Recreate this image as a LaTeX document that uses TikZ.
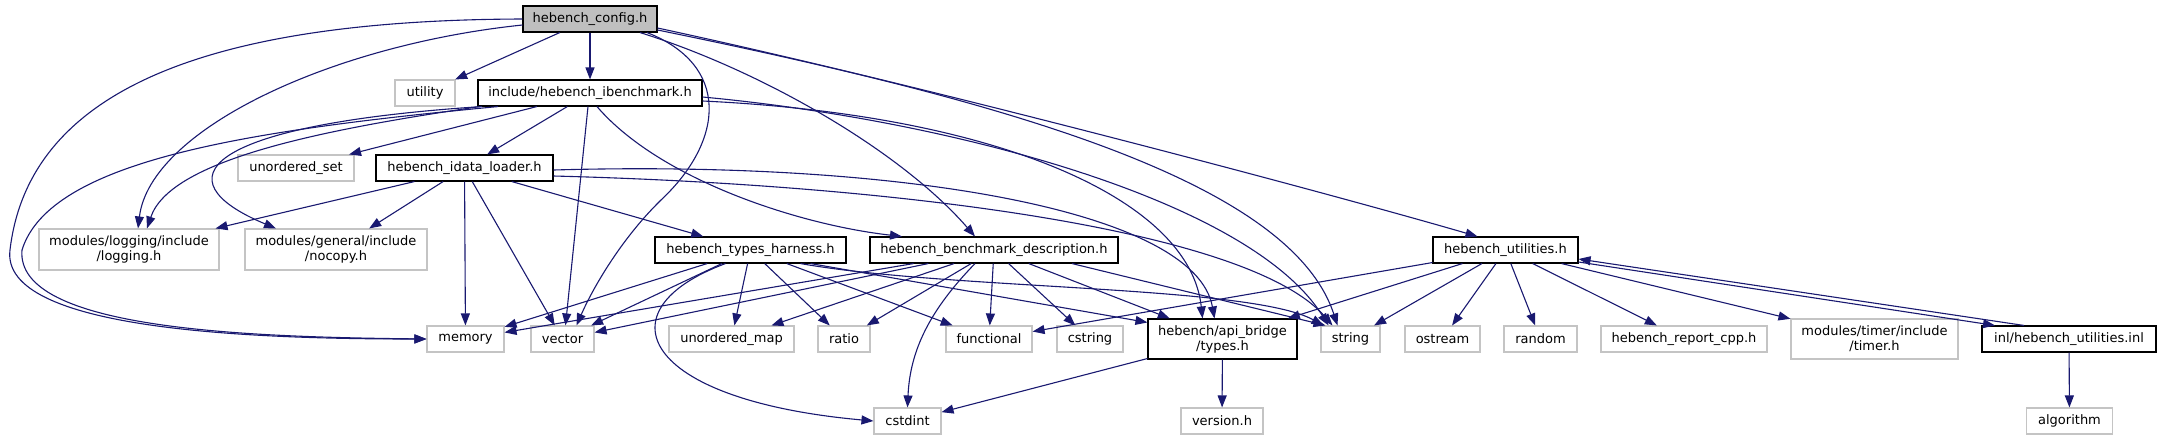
\documentclass[tikz,border=0pt]{standalone}
\usepackage{fontspec}
\setmainfont{DejaVu Sans}
\usetikzlibrary{arrows.meta}
\definecolor{edgec}{HTML}{191970}
\definecolor{graybd}{HTML}{C4C4C4}
\definecolor{cfgfill}{HTML}{BFBFBF}
\begin{document}
\begin{tikzpicture}[x=1pt,y=-1pt,
  dbox/.style={draw=black, line width=1.1pt, minimum height=26pt, inner sep=0pt,
    font=\fontsize{13}{15}\selectfont, align=center, fill=white},
  gbox/.style={dbox, draw=graybd},
  dep/.style={draw=edgec, line width=1.1pt, -{Triangle[length=12pt,width=9pt]}},
]
\useasboundingbox (0,0) rectangle (2161,440);

% nodes
\node[dbox,fill=cfgfill,minimum width=134pt] (cfg) at (590,19) {hebench\_config.h};
\node[gbox,minimum width=60pt] (utility) at (425,93) {utility};
\node[dbox,minimum width=224pt] (ibm) at (590,93) {include/hebench\_ibenchmark.h};
\node[gbox,minimum width=116pt] (uset) at (296,168) {unordered\_set};
\node[dbox,minimum width=177pt] (idl) at (464.5,168) {hebench\_idata\_loader.h};
\node[gbox,minimum width=180pt,minimum height=41pt] (logging) at (129,249.5) {modules/logging/include\\/logging.h};
\node[gbox,minimum width=182pt,minimum height=41pt] (nocopy) at (336,249.5) {modules/general/include\\/nocopy.h};
\node[dbox,minimum width=191pt] (tharn) at (750.5,250) {hebench\_types\_harness.h};
\node[dbox,minimum width=248pt] (bdesc) at (994,250) {hebench\_benchmark\_description.h};
\node[dbox,minimum width=145pt] (util) at (1505.5,250) {hebench\_utilities.h};
\node[gbox,minimum width=77pt] (memory) at (465.5,339) {memory};
\node[gbox,minimum width=63pt] (vector) at (562.5,339) {vector};
\node[gbox,minimum width=125pt] (umap) at (731.5,339) {unordered\_map};
\node[gbox,minimum width=52pt] (ratio) at (844,339) {ratio};
\node[gbox,minimum width=86pt] (functional) at (989,339) {functional};
\node[gbox,minimum width=66pt] (cstring) at (1090,339) {cstring};
\node[dbox,minimum width=149pt,minimum height=40pt] (types) at (1222.5,339) {hebench/api\_bridge\\/types.h};
\node[gbox,minimum width=59pt] (string) at (1350.5,339) {string};
\node[gbox,minimum width=75pt] (ostream) at (1442.5,339) {ostream};
\node[gbox,minimum width=73pt] (random) at (1540.5,339) {random};
\node[gbox,minimum width=166pt] (report) at (1684,339) {hebench\_report\_cpp.h};
\node[gbox,minimum width=167pt,minimum height=40pt] (timer) at (1874.5,339) {modules/timer/include\\/timer.h};
\node[dbox,minimum width=174pt] (inl) at (2069,339) {inl/hebench\_utilities.inl};
\node[gbox,minimum width=67pt] (cstdint) at (907.5,421) {cstdint};
\node[gbox,minimum width=82pt] (version) at (1222,421) {version.h};
\node[gbox,minimum width=86pt] (algorithm) at (2069.5,421) {algorithm};

% hebench_config.h
\draw[dep] (cfg) -- (utility);
\draw[dep] (cfg) -- (ibm);
\draw[dep] (cfg.west) .. controls (230,20) and (30,80) .. (10,250) .. controls (0,330) and (250,339) .. (memory.west);
\draw[dep] ([yshift=-6pt]cfg.west) .. controls (330,45) and (150,130) .. ([xshift=9pt]logging.north);
\draw[dep] ([xshift=57pt]cfg.south) .. controls (730,65) and (725,140) .. (661,200) .. controls (620,240) and (592,290) .. ([xshift=14pt]vector.north);
\draw[dep] ([xshift=50pt]cfg.south) .. controls (760,70) and (900,150) .. ([xshift=-19pt]bdesc.north);
\draw[dep] ([yshift=-9pt]cfg.east) .. controls (900,80) and (1300,185) .. ([xshift=-28pt]util.north);
\draw[dep] ([yshift=-11pt]cfg.east) .. controls (1000,100) and (1290,180) .. ([xshift=-13pt]string.north);

% include/hebench_ibenchmark.h
\draw[dep] ([xshift=-92pt]ibm.south) .. controls (250,130) and (50,160) .. (22,250) .. controls (15,330) and (250,337) .. (memory.west);
\draw[dep] ([xshift=-110pt]ibm.south) .. controls (320,130) and (170,160) .. ([xshift=18pt]logging.north);
\draw[dep] ([xshift=-108pt]ibm.south) .. controls (200,125) and (160,180) .. ([xshift=-60pt]nocopy.north);
\draw[dep] (ibm) -- (uset);
\draw[dep] (ibm) -- (idl);
\draw[dep] ([xshift=-2pt]ibm.south) -- ([xshift=3pt]vector.north);
\draw[dep] ([xshift=7pt]ibm.south) .. controls (660,180) and (800,225) .. ([xshift=-92pt]bdesc.north);
\draw[dep] ([yshift=-4pt]ibm.east) .. controls (950,120) and (1250,200) .. ([xshift=-22pt]string.north);
\draw[dep] ([yshift=-8pt]ibm.east) .. controls (1000,115) and (1190,200) .. ([xshift=-20pt]types.north);

% hebench_idata_loader.h
\draw[dep] ([xshift=-50pt]idl.south) -- ([xshift=-4pt]logging.north east);
\draw[dep] (idl) -- (nocopy);
\draw[dep] (idl) -- (memory);
\draw[dep] (idl) -- (vector);
\draw[dep] (idl) -- (tharn);
\draw[dep] ([yshift=-2pt]idl.east) .. controls (900,160) and (1195,210) .. ([xshift=-8pt]types.north);
\draw[dep] ([yshift=-8pt]idl.east) .. controls (900,185) and (1250,230) .. ([xshift=-18pt]string.north);

% hebench_types_harness.h
\draw[dep] (tharn) -- (memory);
\draw[dep] (tharn) -- (vector);
\draw[dep] (tharn) -- (umap);
\draw[dep] (tharn) -- (ratio);
\draw[dep] (tharn) -- (functional);
\draw[dep] ([xshift=50pt]tharn.south) .. controls (950,290) and (1250,285) .. ([xshift=-27pt]string.north);
\draw[dep] ([xshift=60pt]tharn.south) -- ([yshift=-4pt]types.north west);
\draw[dep] ([xshift=-25pt]tharn.south) .. controls (600,310) and (640,400) .. (cstdint.west);

% hebench_benchmark_description.h
\draw[dep] (bdesc) -- (memory);
\draw[dep] (bdesc) -- (vector);
\draw[dep] (bdesc) -- (umap);
\draw[dep] (bdesc) -- (ratio);
\draw[dep] (bdesc) -- (functional);
\draw[dep] (bdesc) -- (cstring);
\draw[dep] (bdesc) -- (types);
\draw[dep] ([xshift=78pt]bdesc.south) -- ([xshift=-25pt]string.north);
\draw[dep] ([xshift=-19pt]bdesc.south) .. controls (930,310) and (910,350) .. (cstdint.north);

% hebench_utilities.h
\draw[dep] (util) -- (functional);
\draw[dep] (util) -- (types);
\draw[dep] (util) -- (string);
\draw[dep] (util) -- (ostream);
\draw[dep] (util) -- (random);
\draw[dep] (util) -- (report);
\draw[dep] (util) -- (timer);
\draw[dep] ([yshift=-12pt]util.east) -- ([xshift=-74pt]inl.north);

% others
\draw[dep] ([xshift=-45pt]inl.north) -- ([yshift=-9pt]util.east);
\draw[dep] (inl) -- (algorithm);
\draw[dep] (types) -- (cstdint);
\draw[dep] (types) -- (version);
\end{tikzpicture}
\end{document}
